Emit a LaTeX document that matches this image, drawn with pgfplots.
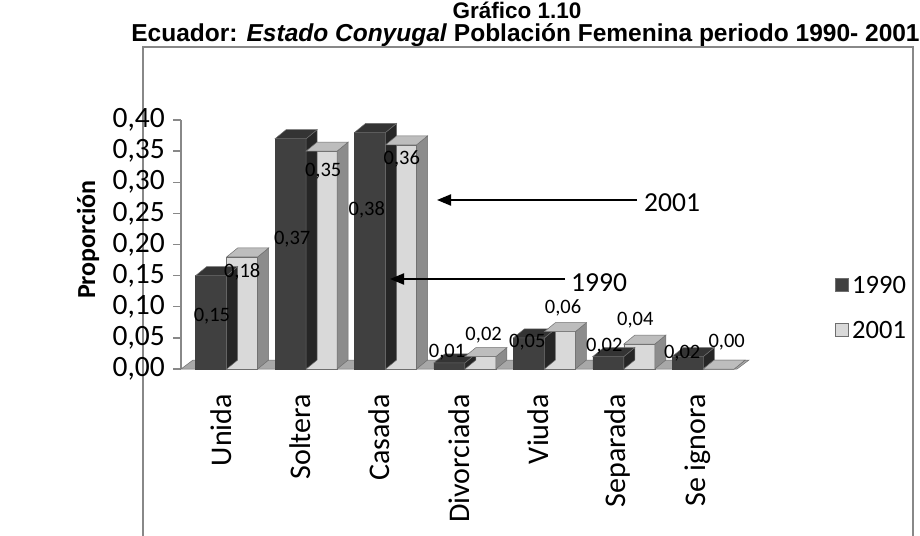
\documentclass[border=0pt]{standalone}
\usepackage{fontspec}
\setmainfont{Carlito}
\newfontfamily\arial{Liberation Sans}
\usepackage{pgfplots}
\pgfplotsset{compat=1.18}
\usetikzlibrary{arrows.meta}

\definecolor{darkbar}{HTML}{404040}
\definecolor{darktop}{HTML}{343434}
\definecolor{darkside}{HTML}{262626}
\definecolor{lightbar}{HTML}{D9D9D9}
\definecolor{lighttop}{HTML}{BDBDBD}
\definecolor{lightside}{HTML}{8C8C8C}
\definecolor{edge}{HTML}{6E6E6E}
\definecolor{floorc}{HTML}{A8A8A8}
\definecolor{framec}{HTML}{888888}

\pgfdeclareplotmark{nothing}{}

% top and side faces of each bar, drawn at the data point
% #1 bar shift (pt), #2 top colour, #3 side colour
\pgfplotsset{
  faces/.style n args={3}{
    scatter, only marks, mark=nothing, forget plot,
    visualization depends on={rawy \as \yraw},
    scatter/@pre marker code/.code={%
      \pgfmathsetmacro\hh{\yraw*622.5}%
      \filldraw[draw=edge, fill=#3, line width=0.5pt]
        ({#1+15.5pt},0pt) -- ++(11pt,9pt) -- ++(0pt,{-\hh*1pt}) -- ++(-11pt,-9pt) -- cycle;
      \filldraw[draw=edge, fill=#2, line width=0.5pt]
        ({#1-15.5pt},0pt) -- ({#1+15.5pt},0pt) -- ++(11pt,9pt) -- ++(-31pt,0pt) -- cycle;
    },
    scatter/@post marker code/.code={},
  },
  lbl/.style={draw=none, mark=none, forget plot, nodes near coords={\pgfplotspointmeta},
    point meta=explicit symbolic,
    every node near coord/.append style={anchor=center, inner sep=0pt,
      font=\fontsize{20.5}{20.5}\selectfont}},
}

\begin{document}
\begin{tikzpicture}[x=1pt,y=1pt]
\path[use as bounding box] (0,0) rectangle (920,535);

\node[anchor=base, inner sep=0pt, font=\arial\bfseries\fontsize{22.5}{22.5}\selectfont]
  at (517,516.5) {Gráfico 1.10};
\node[anchor=base, inner sep=0pt, text height=0.78em, font=\arial\bfseries\fontsize{24.5}{24.5}\selectfont]
  at (525.5,493) {Ecuador: \textit{Estado Conyugal} Población Femenina periodo 1990- 2001};

\draw[framec, line width=1.5pt] (143,-2) -- (143,488) -- (913,488) -- (913,-2);

\begin{axis}[
  at={(181pt,166pt)}, anchor=south west,
  scale only axis, width=556pt, height=249pt,
  xmin=-0.5, xmax=6.5, ymin=0, ymax=0.4,
  clip=false,
  axis x line*=bottom, axis y line*=left,
  x axis line style={draw=none},
  y axis line style={draw=framec, line width=1.3pt},
  xtick={0,1,2,3,4,5,6},
  xticklabels={Unida,Soltera,Casada,Divorciada,Viuda,Separada,Se ignora},
  xtick style={draw=none},
  x tick label style={rotate=90, anchor=east, inner sep=0pt,
    font=\fontsize{30}{30}\selectfont},
  xticklabel shift=17pt,
  ytick={0,0.05,0.1,0.15,0.2,0.25,0.3,0.35,0.4},
  ytick style={draw=framec, line width=1.3pt},
  tick align=outside, major tick length=8pt,
  /pgf/number format/assume math mode=true,
  yticklabel={\pgfmathprintnumber[fixed,fixed zerofill,precision=2,use comma]{\tick}},
  y tick label style={inner sep=0pt, font=\fontsize{29.5}{29.5}\selectfont},
  yticklabel shift=8pt,
  ylabel={\bfseries Proporción},
  every axis y label/.style={at={(axis description cs:-0.167,0.52)}, rotate=90,
    anchor=center, font=\fontsize{26}{26}\selectfont},
]
% floor
\fill[floorc, draw=edge, line width=0.5pt] (axis cs:-0.5,0) -- (axis cs:6.5,0)
  -- ([xshift=12pt,yshift=9pt]axis cs:6.5,0) -- ([xshift=12pt,yshift=9pt]axis cs:-0.5,0) -- cycle;

% 1990
\addplot[ybar, bar width=0.39, bar shift=-0.12, fill=darkbar, draw=darkbar]
  coordinates {(0,0.15) (1,0.37) (2,0.38) (3,0.01) (4,0.05) (5,0.02) (6,0.02)};
\addplot[faces={-9.53pt}{darktop}{darkside}]
  coordinates {(0,0.15) (1,0.37) (2,0.38) (3,0.01) (4,0.05) (5,0.02) (6,0.02)};
% 2001
\addplot[ybar, bar width=0.39, bar shift=0.27, fill=lightbar, draw=edge, line width=0.5pt]
  coordinates {(0,0.18) (1,0.35) (2,0.36) (3,0.02) (4,0.06) (5,0.04) (6,0.00)};
\addplot[faces={21.45pt}{lighttop}{lightside}]
  coordinates {(0,0.18) (1,0.35) (2,0.36) (3,0.02) (4,0.06) (5,0.04) (6,0.00)};

% data labels
\addplot[lbl] coordinates {(-0.11,0.085) [0,15] (0.9,0.209) [0,37] (1.84,0.255) [0,38]
  (2.85,0.027) [0,01] (3.86,0.043) [0,05] (4.83,0.037) [0,02] (5.81,0.026) [0,02]};
\addplot[lbl] coordinates {(0.27,0.156) [0,18] (1.29,0.318) [0,35] (2.28,0.337) [0,36]
  (3.31,0.055) [0,02] (4.31,0.098) [0,06] (5.22,0.079) [0,04] (6.37,0.043) [0,00]};
\end{axis}

% arrows
\draw[line width=2pt, -{Triangle[length=14pt,width=11pt]}] (637,335) -- (437,335);
\node[anchor=west, inner sep=0pt, font=\fontsize{27.5}{27.5}\selectfont] at (644,332) {2001};
\draw[line width=2pt, -{Triangle[length=14pt,width=11pt]}] (565,256) -- (390,256);
\node[anchor=west, inner sep=0pt, font=\fontsize{27.5}{27.5}\selectfont] at (571,252) {1990};

% legend
\filldraw[fill=darkbar, draw=edge, line width=0.6pt] (835,244) rectangle (848,257);
\node[anchor=west, inner sep=0pt, font=\fontsize{26.5}{26.5}\selectfont] at (852,250) {1990};
\filldraw[fill=lightbar, draw=edge, line width=0.6pt] (835,199) rectangle (848,212);
\node[anchor=west, inner sep=0pt, font=\fontsize{26.5}{26.5}\selectfont] at (852,205) {2001};
\end{tikzpicture}
\end{document}
